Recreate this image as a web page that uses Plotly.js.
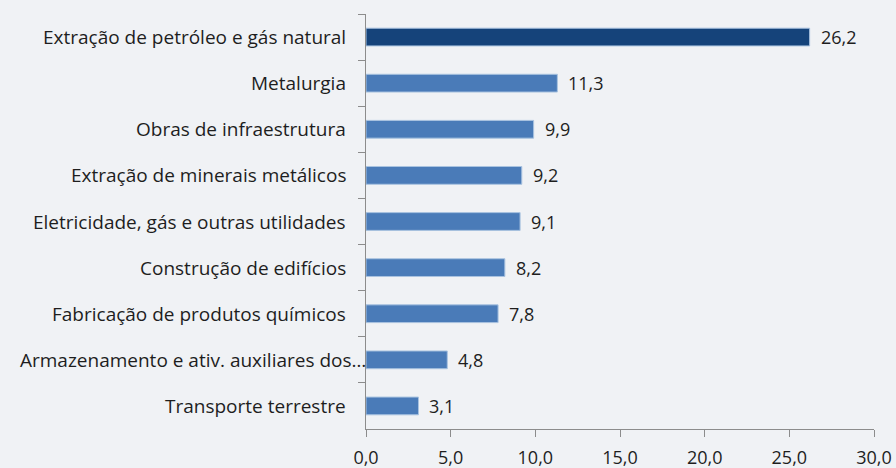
<!DOCTYPE html>
<html>
<head>
<meta charset="utf-8">
<script src="https://cdn.plot.ly/plotly-3.0.1.min.js"></script>
<style>
html, body { margin: 0; padding: 0; background: #f0f2f5; }
#chart { width: 896px; height: 468px; }
</style>
</head>
<body>
<div id="chart"></div>
<script>
const categories = [
  "Extração de petróleo e gás natural",
  "Metalurgia",
  "Obras de infraestrutura",
  "Extração de minerais metálicos",
  "Eletricidade, gás e outras utilidades",
  "Construção de edifícios",
  "Fabricação de produtos químicos",
  "Armazenamento e ativ. auxiliares dos…",
  "Transporte terrestre"
];
const values = [26.2, 11.3, 9.9, 9.2, 9.1, 8.2, 7.8, 4.8, 3.1];
const xTicks = [0, 5, 10, 15, 20, 25, 30];

const fontFamily = "'Open Sans', sans-serif";
const textColor = "#1e1e1e";
const barColors = values.map((v, i) => i === 0 ? "#15437a" : "#4a7bb8");

const fmt = v => v.toFixed(1).replace(".", ",");

const trace = {
  type: "bar",
  orientation: "h",
  x: values,
  y: categories,
  width: 0.385,
  marker: { color: barColors, line: { color: "#a9c3e0", width: 1 } },
  hoverinfo: "skip"
};

const annotations = values.map((v, i) => ({
  x: v, y: categories[i], xref: "x", yref: "y",
  text: fmt(v), showarrow: false, xanchor: "left", xshift: 9,
  font: { family: fontFamily, size: 18, color: textColor }
}));

const labelAnnotations = categories.map(c => ({
  x: 0, y: c, xref: "paper", yref: "y",
  text: c, showarrow: false, xanchor: "right",
  xshift: c.endsWith("…") ? 2 : -18,
  font: { family: fontFamily, size: 19, color: textColor }
}));

const layout = {
  width: 896, height: 468,
  margin: { l: 366, r: 22, t: 14, b: 39, pad: 0 },
  paper_bgcolor: "#f0f2f5",
  plot_bgcolor: "#f0f2f5",
  separators: ",.",
  showlegend: false,
  font: { family: fontFamily, size: 18, color: textColor },
  xaxis: {
    range: [0, 30],
    tickvals: xTicks,
    tickformat: ".1f",
    showgrid: false,
    zeroline: false,
    showline: true, linecolor: "#8c8c8c", linewidth: 1,
    ticks: "outside", ticklen: 7, tickcolor: "#8c8c8c",
    ticklabelstandoff: 5,
    tickfont: { family: fontFamily, size: 18, color: textColor },
    fixedrange: true
  },
  yaxis: {
    type: "category",
    autorange: "reversed",
    showgrid: false,
    zeroline: false,
    showline: true, linecolor: "#8c8c8c", linewidth: 1,
    ticks: "outside", ticklen: 7, tickcolor: "#8c8c8c",
    tickson: "boundaries",
    showticklabels: false,
    fixedrange: true
  },
  annotations: labelAnnotations.concat(annotations)
};

Plotly.newPlot("chart", [trace], layout, { displayModeBar: false, staticPlot: true });
</script>
</body>
</html>
